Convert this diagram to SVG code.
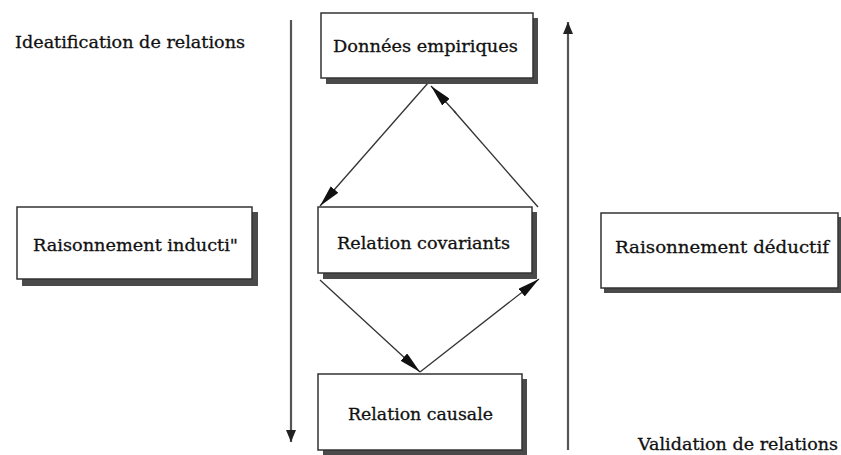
<svg xmlns="http://www.w3.org/2000/svg" width="841" height="455" viewBox="0 0 841 455">
<style>
.box{fill:#fff;stroke:#333;stroke-width:1.5}
.sh{fill:#4a4a4a}
.t{font-family:"DejaVu Serif","Liberation Serif",serif;font-size:17px;fill:#111;stroke:#111;stroke-width:0.3}
.c{fill:none;stroke:#333;stroke-width:1.3}
.v{fill:none;stroke:#555;stroke-width:2.2}
</style>
<defs>
<marker id="ah" viewBox="0 0 22 10" refX="22" refY="5" markerWidth="22" markerHeight="10" markerUnits="userSpaceOnUse" orient="auto">
<path d="M0,0 L22,5 L0,10 z" fill="#111"/>
</marker>
<marker id="av" viewBox="0 0 12 10" refX="12" refY="5" markerWidth="12" markerHeight="10" markerUnits="userSpaceOnUse" orient="auto">
<path d="M0,0 L12,5 L0,10 z" fill="#222"/>
</marker>
</defs>
<rect width="841" height="455" fill="#fff"/>
<text class="t" x="15" y="48" textLength="230" lengthAdjust="spacingAndGlyphs">Ideatification de relations</text>
<text class="t" x="638" y="450" textLength="200" lengthAdjust="spacingAndGlyphs">Validation de relations</text>
<g id="connectors">
<line class="v" x1="291" y1="20" x2="291" y2="442" marker-end="url(#av)"/>
<line class="v" x1="568" y1="450" x2="568" y2="22" marker-end="url(#av)"/>
<line class="c" x1="428" y1="83" x2="320" y2="206" marker-end="url(#ah)"/>
<line class="c" x1="538" y1="207" x2="454" y2="111"/>
<line class="c" x1="456" y1="113" x2="431" y2="86" marker-end="url(#ah)"/>
<line class="c" x1="320" y1="280" x2="420" y2="372" marker-end="url(#ah)"/>
<line class="c" x1="420" y1="372" x2="539" y2="279" marker-end="url(#ah)"/>
</g>
<g id="donnees">
<rect class="sh" x="326" y="18" width="212" height="66"/>
<rect class="box" x="321" y="13" width="212" height="65"/>
<text class="t" x="333" y="52" textLength="185" lengthAdjust="spacingAndGlyphs">Données empiriques</text>
</g>
<g id="covariante">
<rect class="sh" x="323" y="212" width="214" height="67"/>
<rect class="box" x="318" y="207" width="214" height="66"/>
<text class="t" x="337" y="249" textLength="173" lengthAdjust="spacingAndGlyphs">Relation covariants</text>
</g>
<g id="causale">
<rect class="sh" x="323" y="379" width="204" height="76"/>
<rect class="box" x="318" y="374" width="204" height="76"/>
<text class="t" x="348" y="420" textLength="145" lengthAdjust="spacingAndGlyphs">Relation causale</text>
</g>
<g id="inductif">
<rect class="sh" x="22" y="212" width="236" height="74"/>
<rect class="box" x="17" y="207" width="235" height="72"/>
<text class="t" x="33" y="251" textLength="205" lengthAdjust="spacingAndGlyphs">Raisonnement inducti"</text>
</g>
<g id="deductif">
<rect class="sh" x="604" y="217" width="237" height="76"/>
<rect class="box" x="601" y="213" width="237" height="75"/>
<text class="t" x="615" y="253" textLength="214" lengthAdjust="spacingAndGlyphs">Raisonnement déductif</text>
</g>
</svg>
